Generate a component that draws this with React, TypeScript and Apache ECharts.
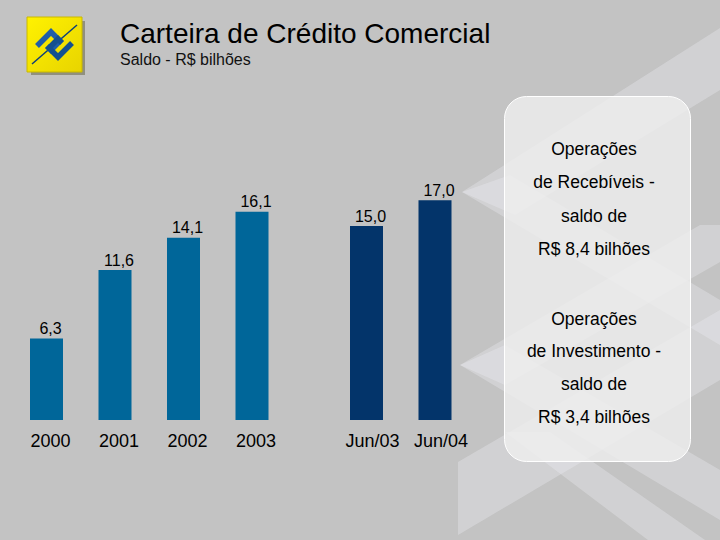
import React, { useEffect, useRef } from "react";
import * as echarts from "echarts";

const yearCategories = ["2000", "2001", "2002", "2003"];
const yearValues = [6.3, 11.6, 14.1, 16.1];
const junCategories = ["Jun/03", "Jun/04"];
const junValues = [15.0, 17.0];
const titleText = "Carteira de Crédito Comercial";
const subtitleText = "Saldo - R$ bilhões";
const boxLinesTop = ["Operações", "de Recebíveis -", "saldo de", "R$ 8,4 bilhões"];
const boxLinesBottom = ["Operações", "de Investimento -", "saldo de", "R$ 3,4 bilhões"];

const FONT = "'Liberation Sans', Arial, Helvetica, sans-serif";
const Y_MAX = 20;

export default function App() {
  const ref = useRef<HTMLDivElement>(null);

  useEffect(() => {
    if (!ref.current) return;
    const chart = echarts.init(ref.current, undefined, { renderer: "svg" });

    const fmt = (p: any) => Number(p.value).toFixed(1).replace(".", ",");
    const wm = "rgba(236,236,240,0.36)";

    const watermark = [
      [[462, 192], [720, 28], [720, 90], [515, 215]],
      [[462, 192], [510, 175], [720, 300], [720, 345]],
      [[460, 365], [700, 225], [720, 225], [720, 262], [505, 385]],
      [[460, 365], [505, 345], [720, 470], [720, 520]],
      [[458, 462], [720, 310], [720, 380], [458, 535]],
      [[505, 432], [550, 432], [705, 540], [648, 540]],
    ].map((pts) => ({
      type: "polygon",
      silent: true,
      z: 0,
      shape: { points: pts },
      style: { fill: wm },
    }));

    const boxTexts: any[] = [];
    const topY = [149, 182, 216, 249];
    const botY = [319, 351, 384, 417];
    const mk = (t: string, y: number) => ({
      type: "text",
      z: 3,
      x: 594,
      y,
      style: { text: t, fill: "#000", font: `17.5px ${FONT}`, align: "center", verticalAlign: "middle" },
    });
    boxLinesTop.forEach((t, i) => boxTexts.push(mk(t, topY[i])));
    boxLinesBottom.forEach((t, i) => boxTexts.push(mk(t, botY[i])));

    const gridTop = 420 - Y_MAX * 12.93;

    chart.setOption({
      animation: false,
      backgroundColor: "#c3c3c3",
      textStyle: { fontFamily: FONT },
      title: {
        text: titleText,
        subtext: subtitleText,
        left: 115,
        top: 14,
        itemGap: 4,
        textStyle: { fontFamily: FONT, fontSize: 28, fontWeight: "normal", color: "#000" },
        subtextStyle: { fontFamily: FONT, fontSize: 16, color: "#111" },
      },
      grid: [
        { left: 12.25, width: 274, top: gridTop, bottom: 120 },
        { left: 332.25, width: 137, top: gridTop, bottom: 120 },
      ],
      xAxis: [0, 1].map((g) => ({
        type: "category",
        gridIndex: g,
        data: g === 0 ? yearCategories : junCategories,
        axisLine: { show: false },
        axisTick: { show: false },
        splitLine: { show: false },
        axisLabel: {
          interval: 0,
          hideOverlap: false,
          fontFamily: FONT,
          fontSize: 18,
          color: "#000",
          margin: 12,
          padding: [0, 0, 0, g === 0 ? 8 : 12],
        },
      })),
      yAxis: [0, 1].map((g) => ({
        type: "value",
        gridIndex: g,
        min: 0,
        max: Y_MAX,
        show: false,
        splitLine: { show: false },
      })),
      series: [
        {
          type: "bar",
          name: "Anual",
          xAxisIndex: 0,
          yAxisIndex: 0,
          data: yearValues,
          barWidth: 33,
          z: 5,
          itemStyle: { color: "#006699" },
          label: {
            show: true,
            position: "top",
            distance: 2,
            offset: [4, 0],
            formatter: fmt,
            fontFamily: FONT,
            fontSize: 16,
            color: "#000",
          },
        },
        {
          type: "bar",
          name: "Semestral",
          xAxisIndex: 1,
          yAxisIndex: 1,
          data: junValues,
          barWidth: 33,
          z: 5,
          itemStyle: { color: "#03346a" },
          label: {
            show: true,
            position: "top",
            distance: 2,
            offset: [4, 0],
            formatter: fmt,
            fontFamily: FONT,
            fontSize: 16,
            color: "#000",
          },
        },
      ],
      graphic: [
        ...watermark,
        {
          type: "rect",
          z: 2,
          silent: true,
          shape: { x: 504.5, y: 96.5, width: 186, height: 365, r: 22 },
          style: { fill: "rgba(238,238,238,0.82)", stroke: "#ffffff", lineWidth: 1 },
        },
        ...boxTexts,
        {
          type: "rect",
          z: 3,
          silent: true,
          shape: { x: 31, y: 21, width: 54, height: 54 },
          style: { fill: "#7c7a62", opacity: 0.7 },
        },
        {
          type: "rect",
          z: 4,
          silent: true,
          shape: { x: 27, y: 17, width: 55, height: 55 },
          style: {
            fill: new echarts.graphic.LinearGradient(0, 0, 1, 1, [
              { offset: 0, color: "#fff200" },
              { offset: 1, color: "#e8d400" },
            ]),
            stroke: "#c9b800",
            lineWidth: 1,
          },
        },
        {
          type: "line",
          z: 5,
          silent: true,
          shape: { x1: 32, y1: 64, x2: 77, y2: 25 },
          style: { stroke: "#0d3f7a", lineWidth: 1.5 },
        },
        {
          type: "polyline",
          z: 6,
          silent: true,
          shape: { points: [[37, 46], [51, 32], [60, 41], [51, 50], [47, 46]] },
          style: { stroke: "#1f5ea8", lineWidth: 5.5, lineJoin: "miter", fill: null },
        },
        {
          type: "polyline",
          z: 6,
          silent: true,
          shape: { points: [[72, 43], [58, 57], [49, 48], [58, 39], [62, 43]] },
          style: { stroke: "#14508f", lineWidth: 5.5, lineJoin: "miter", fill: null },
        },
      ],
    });

    return () => chart.dispose();
  }, []);

  return (
    <div
      ref={ref}
      style={{ position: "fixed", left: 0, top: 0, width: 720, height: 540 }}
    />
  );
}
